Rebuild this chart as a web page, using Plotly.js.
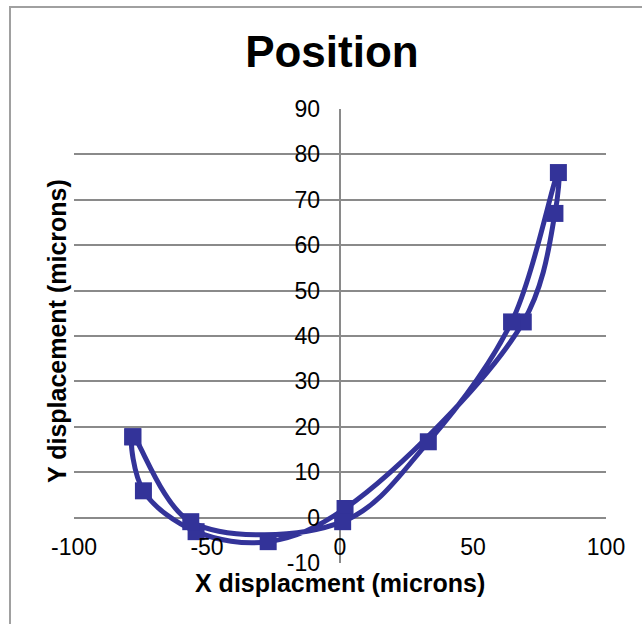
<!DOCTYPE html>
<html>
<head>
<meta charset="utf-8">
<script src="https://cdn.plot.ly/plotly-3.0.1.min.js"></script>
<style>html,body{margin:0;padding:0;background:#fff;}#chart{width:642px;height:624px;}</style>
</head>
<body>
<div id="chart"></div>
<script>
// Position trace (microns), in recorded order
const xDisplacement = [-77.9, -73.9, -54.1, -27.0, 1.9, 68.9, 80.8, 82.1, 64.5, 33.2, 1.0, -56.1, -77.9];
const yDisplacement = [17.8, 5.9, -3.1, -5.3, 2.0, 43.1, 67.0, 76.0, 43.1, 16.7, -0.9, -0.9, 17.8];
const xTicks = [-100, -50, 0, 50, 100];
const yTicks = [-10, 0, 10, 20, 30, 40, 50, 60, 70, 80, 90];

const FONT = '"Liberation Sans", Arial, sans-serif';
const GRID = '#8a8a8a';
const BLUE = '#333399';

const trace = {
  x: xDisplacement,
  y: yDisplacement,
  type: 'scatter',
  mode: 'lines+markers',
  line: {color: BLUE, width: 5, shape: 'spline', smoothing: 1},
  marker: {symbol: 'square', size: 17, color: BLUE},
  showlegend: false,
  hoverinfo: 'x+y'
};

const layout = {
  width: 642,
  height: 624,
  margin: {l: 74, r: 36, t: 109, b: 61, pad: 0},
  paper_bgcolor: '#ffffff',
  plot_bgcolor: '#ffffff',
  font: {family: FONT, color: '#000'},
  title: {
    text: '<b>Position</b>',
    font: {family: FONT, size: 44, color: '#000'},
    xref: 'container', x: 0.517, xanchor: 'center',
    yref: 'container', y: 0.917, yanchor: 'middle'
  },
  xaxis: {
    range: [-100, 100],
    tickvals: xTicks,
    ticktext: xTicks.map(String),
    showgrid: false,
    zeroline: true,
    zerolinecolor: GRID,
    zerolinewidth: 2,
    showline: false,
    ticks: '',
    ticklabelposition: 'inside',
    ticklabeloverflow: 'allow',
    tickfont: {family: FONT, size: 23, color: '#000'},
    fixedrange: true
  },
  yaxis: {
    range: [-10, 90],
    tickvals: yTicks,
    ticktext: yTicks.map(String),
    showgrid: true,
    gridcolor: GRID,
    gridwidth: 2,
    zeroline: false,
    showline: false,
    ticks: '',
    anchor: 'free',
    position: 0.5,
    ticklabelstandoff: 20,
    tickfont: {family: FONT, size: 23, color: '#000'},
    fixedrange: true
  },
  annotations: [
    {
      text: '<b>X displacment (microns)</b>',
      xref: 'paper', yref: 'paper', x: 0.5, y: -0.044,
      xanchor: 'center', yanchor: 'middle', showarrow: false,
      font: {family: FONT, size: 25, color: '#000'}
    },
    {
      text: '<b>Y displacement (microns)</b>',
      xref: 'paper', yref: 'paper', x: -0.032, y: 0.511,
      xanchor: 'center', yanchor: 'middle', textangle: -90, showarrow: false,
      font: {family: FONT, size: 25, color: '#000'}
    }
  ],
  shapes: [
    {
      type: 'rect', xref: 'paper', yref: 'paper',
      x0: -0.1203, x1: 1.08, y0: -0.16, y1: 1.2247,
      line: {color: '#a0a0a0', width: 2}, fillcolor: 'rgba(0,0,0,0)', layer: 'below'
    }
  ]
};

Plotly.newPlot('chart', [trace], layout, {displayModeBar: false, staticPlot: true});
</script>
</body>
</html>
